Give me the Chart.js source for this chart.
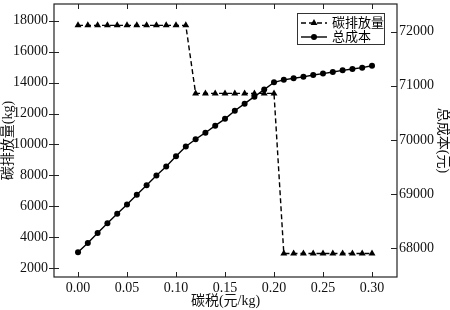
<!DOCTYPE html>
<html>
<head>
<meta charset="utf-8">
<script src="https://cdn.jsdelivr.net/npm/chart.js@4"></script>
<style>
  html, body { margin: 0; padding: 0; background: #fff; }
  #wrap { width: 450px; height: 310px; }
</style>
</head>
<body>
<div id="wrap"><canvas id="chart" width="450" height="310"></canvas></div>
<script>
// carbon tax (元/kg) vs emissions (left axis) and total cost (right axis)
const taxRates = [0.00, 0.01, 0.02, 0.03, 0.04, 0.05, 0.06, 0.07, 0.08, 0.09, 0.10,
  0.11, 0.12, 0.13, 0.14, 0.15, 0.16, 0.17, 0.18, 0.19, 0.20,
  0.21, 0.22, 0.23, 0.24, 0.25, 0.26, 0.27, 0.28, 0.29, 0.30];
const emissions = [17700, 17700, 17700, 17700, 17700, 17700, 17700, 17700, 17700, 17700, 17700,
  17700, 13300, 13300, 13300, 13300, 13300, 13300, 13300, 13300, 13300,
  2950, 2950, 2950, 2950, 2950, 2950, 2950, 2950, 2950, 2950];
const totalCost = [67930, 68100, 68285, 68465, 68640, 68810, 68990, 69165, 69345, 69510, 69700,
  69880, 70015, 70135, 70265, 70390, 70540, 70670, 70800, 70930, 71065,
  71110, 71140, 71165, 71200, 71225, 71255, 71285, 71310, 71335, 71370];
const xTicks = [0.00, 0.05, 0.10, 0.15, 0.20, 0.25, 0.30];
const leftTicks = [2000, 4000, 6000, 8000, 10000, 12000, 14000, 16000, 18000];
const rightTicks = [68000, 69000, 70000, 71000, 72000];
const seriesNames = ["碳排放量", "总成本"];

const FONT = "'Liberation Serif', 'Noto Sans CJK SC', serif";

function fixTicks(list) {
  return (scale) => { scale.ticks = list.map((v) => ({ value: v })); };
}

// keep the plot box where the reference has it (no label overhang padding)
function fitBox(size) {
  return (s) => {
    if (s.isHorizontal()) s.height = size; else s.width = size;
    s.paddingTop = 0; s.paddingBottom = 0; s.paddingLeft = 0; s.paddingRight = 0;
  };
}

// frame, small tick marks and the boxed legend
const framePlugin = {
  id: "frame",
  afterDraw(chart) {
    const { ctx, chartArea: a, scales } = chart;
    ctx.save();
    ctx.strokeStyle = "#222";
    ctx.lineWidth = 1.2;
    ctx.strokeRect(a.left, a.top, a.right - a.left, a.bottom - a.top);

    ctx.lineWidth = 1;
    ctx.beginPath();
    xTicks.forEach((v) => {
      const x = Math.round(scales.x.getPixelForValue(v)) + 0.5;
      ctx.moveTo(x, a.bottom); ctx.lineTo(x, a.bottom - 5);
      ctx.moveTo(x, a.top); ctx.lineTo(x, a.top + 5);
    });
    leftTicks.forEach((v) => {
      const y = Math.round(scales.y.getPixelForValue(v)) + 0.5;
      ctx.moveTo(a.left - 5, y); ctx.lineTo(a.left + 5, y);
    });
    rightTicks.forEach((v) => {
      const y = Math.round(scales.y1.getPixelForValue(v)) + 0.5;
      ctx.moveTo(a.right, y); ctx.lineTo(a.right - 6, y);
    });
    ctx.stroke();

    // legend
    const bx = 297, by = 13, bw = 87, bh = 31;
    ctx.fillStyle = "#fff";
    ctx.fillRect(bx, by, bw, bh);
    ctx.strokeStyle = "#333";
    ctx.lineWidth = 1;
    ctx.strokeRect(bx + 0.5, by + 0.5, bw, bh);
    chart.data.datasets.forEach((ds, i) => {
      const y = by + 10 + i * 14;
      ctx.strokeStyle = "#000";
      ctx.lineWidth = 1.4;
      ctx.setLineDash(ds.borderDash || []);
      ctx.beginPath();
      ctx.moveTo(bx + 4, y); ctx.lineTo(bx + 30, y);
      ctx.stroke();
      ctx.setLineDash([]);
      ctx.fillStyle = "#000";
      Chart.helpers.drawPoint(ctx, { pointStyle: ds.pointStyle, radius: ds.pointRadius, borderWidth: 0 }, bx + 17, y);
      ctx.font = "13px " + FONT;
      ctx.textBaseline = "middle";
      ctx.fillText(ds.label, bx + 35, y + 1);
    });
    ctx.restore();
  },
};

const tickFont = { family: FONT, size: 14 };
const titleFont = { family: FONT, size: 14, lineHeight: 1 };

new Chart(document.getElementById("chart"), {
  type: "line",
  data: {
    datasets: [
      {
        label: seriesNames[0],
        data: taxRates.map((x, i) => ({ x, y: emissions[i] })),
        yAxisID: "y",
        borderColor: "#000",
        backgroundColor: "#000",
        borderWidth: 1.4,
        borderDash: [5, 3],
        pointStyle: "triangle",
        pointRadius: 4,
        pointBorderWidth: 0,
        tension: 0,
      },
      {
        label: seriesNames[1],
        data: taxRates.map((x, i) => ({ x, y: totalCost[i] })),
        yAxisID: "y1",
        borderColor: "#000",
        backgroundColor: "#000",
        borderWidth: 1.4,
        pointStyle: "circle",
        pointRadius: 3,
        pointBorderWidth: 0,
        tension: 0,
      },
    ],
  },
  options: {
    responsive: false,
    animation: false,
    layout: { padding: { top: 1, right: 0, left: 0, bottom: 0 } },
    plugins: { legend: { display: false }, tooltip: { enabled: false } },
    scales: {
      x: {
        type: "linear",
        min: -0.0245,
        max: 0.3255,
        afterBuildTicks: fixTicks(xTicks),
        afterFit: fitBox(33),
        grid: { display: false, drawTicks: false },
        border: { display: false },
        ticks: {
          color: "#111",
          font: tickFont,
          padding: 3,
          maxRotation: 0,
          callback: (v) => Number(v).toFixed(2),
        },
        title: {
          display: true,
          text: "碳税(元/kg)",
          color: "#111",
          font: titleFont,
          padding: { top: 0, bottom: 2 },
        },
      },
      y: {
        position: "left",
        min: 1430,
        max: 19080,
        afterBuildTicks: fixTicks(leftTicks),
        afterFit: fitBox(54),
        grid: { display: false, drawTicks: false },
        border: { display: false },
        ticks: { color: "#111", font: tickFont, padding: 6, callback: (v) => String(v) },
        title: {
          display: true,
          text: "碳排放量(kg)",
          color: "#111",
          font: titleFont,
          padding: { top: 1, bottom: 0 },
        },
      },
      y1: {
        position: "right",
        min: 67473,
        max: 72509,
        afterBuildTicks: fixTicks(rightTicks),
        afterFit: fitBox(53),
        grid: { display: false, drawTicks: false },
        border: { display: false },
        ticks: { color: "#111", font: tickFont, padding: 2, callback: (v) => String(v) },
        title: {
          display: true,
          text: "总成本(元)",
          color: "#111",
          font: titleFont,
          padding: { top: 0, bottom: 0 },
        },
      },
    },
  },
  plugins: [framePlugin],
});
</script>
</body>
</html>
